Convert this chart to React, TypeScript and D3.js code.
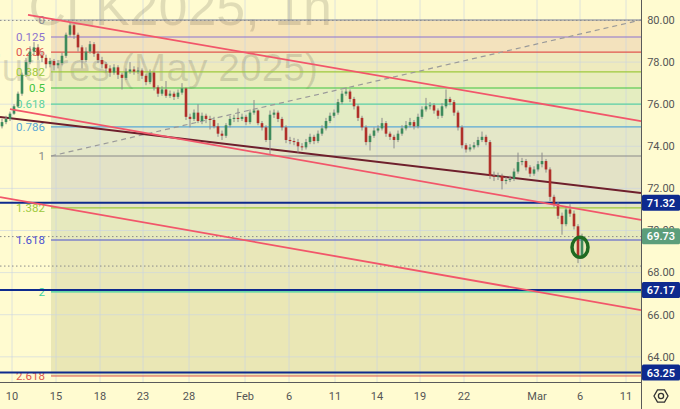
import React from "react";
import * as d3 from "d3";

const W = 680;
const H = 409;
const PLOT_R = 641;
const PLOT_B = 382;

// 1h candles (open = previous close)
const firstOpen = 74.95;
const closes = [
  75.15, 75.3, 75.55, 75.9, 76.5, 77.4, 78.0, 78.5, 78.7, 78.3,
  78.2, 77.9, 78.05, 77.85, 77.95, 78.3, 79.3, 79.75, 79.3, 78.7,
  78.1, 78.5, 78.85, 78.4, 78.1, 77.9, 77.7, 77.5, 77.75, 77.4,
  77.25, 77.55, 77.65, 77.55, 77.6, 77.35, 77.05, 77.5, 76.8, 76.5,
  76.7, 76.4, 76.5, 76.35, 76.55, 76.75, 75.4, 75.3, 75.6, 75.2,
  75.45, 75.3, 75.25, 74.95, 74.6, 74.5, 75.0, 75.3, 75.35, 75.3,
  75.4, 75.15, 75.6, 75.7, 75.1, 74.9, 74.3, 75.5, 75.6, 75.3,
  74.9, 74.3, 74.25, 74.2, 74.0, 73.95, 74.2, 74.45, 74.25, 74.6,
  74.85, 75.2, 75.45, 75.6, 76.1, 76.5, 76.6, 76.25, 75.9, 75.35,
  74.9, 74.2, 74.5, 74.75, 74.85, 75.1, 74.6, 74.45, 74.3, 74.6,
  74.85, 75.0, 75.15, 74.95, 75.4, 75.75, 75.9, 75.95, 75.7, 75.45,
  75.9, 76.25, 76.1, 75.6, 74.9, 74.05, 73.85, 73.95, 74.05, 74.3,
  74.45, 74.2, 72.6, 72.55, 72.6, 72.35, 72.4, 72.45, 72.8, 73.25,
  73.3, 73.0, 72.7, 72.9, 73.15, 73.3, 72.9, 71.6, 71.25, 70.7,
  70.3, 71.0, 70.8, 70.2, 68.75, 69.73,
];
const highs = [
  75.3, 75.45, 75.65, 76.0, 76.6, 77.5, 78.2, 78.75, 78.95, 78.85,
  78.5, 78.35, 78.2, 78.15, 78.1, 78.45, 79.4, 79.9, 79.8, 79.4,
  78.8, 78.7, 79.0, 78.95, 78.5, 78.25, 78.0, 77.85, 77.9, 77.85,
  77.5, 77.7, 78.0, 77.8, 77.75, 77.7, 77.45, 77.65, 77.55, 76.9,
  76.85, 77.1, 76.65, 76.6, 76.7, 77.0, 76.8, 75.55, 75.75, 76.0,
  75.6, 75.55, 75.45, 75.4, 75.1, 74.75, 75.1, 75.45, 75.5, 75.8,
  75.55, 75.5, 75.75, 76.2, 75.75, 75.2, 75.0, 75.7, 75.75, 75.7,
  75.4, 75.0, 74.45, 74.4, 74.35, 74.15, 74.35, 74.6, 74.55, 74.75,
  75.0, 75.35, 75.6, 75.75, 76.25, 76.65, 76.8, 76.7, 76.35, 76.0,
  75.45, 75.0, 74.6, 74.9, 75.0, 75.35, 75.2, 74.7, 74.55, 74.75,
  75.0, 75.2, 75.35, 75.25, 75.55, 75.9, 76.3, 76.1, 76.05, 75.8,
  76.05, 76.7, 76.35, 76.2, 75.7, 75.0, 74.15, 74.1, 74.2, 74.45,
  74.7, 74.55, 74.3, 72.8, 72.75, 72.7, 72.55, 72.6, 72.95, 73.7,
  73.45, 73.4, 73.1, 73.05, 73.3, 73.7, 73.4, 73.0, 71.7, 71.35,
  70.85, 71.15, 71.25, 70.95, 70.3, 69.85,
];
const lows = [
  74.85, 75.05, 75.2, 75.5, 75.85, 76.4, 77.3, 77.9, 78.35, 78.1,
  78.0, 77.7, 77.75, 77.6, 77.7, 77.85, 78.2, 79.2, 79.1, 78.5,
  77.7, 78.0, 78.4, 78.25, 77.95, 77.7, 77.5, 77.3, 77.4, 77.2,
  76.7, 77.15, 77.45, 77.4, 77.45, 77.2, 76.9, 76.95, 76.65, 76.35,
  76.4, 76.3, 76.3, 76.2, 76.25, 76.45, 75.25, 74.9, 75.2, 75.1,
  75.05, 75.1, 74.8, 74.85, 74.45, 74.3, 74.4, 74.9, 75.15, 75.15,
  75.2, 75.0, 75.05, 75.5, 75.0, 74.75, 74.2, 73.6, 75.35, 75.15,
  74.75, 74.15, 74.1, 74.05, 73.7, 73.8, 73.85, 74.1, 74.1, 74.15,
  74.5, 74.75, 75.1, 75.35, 75.5, 76.0, 76.4, 76.1, 75.75, 75.2,
  74.75, 74.05, 73.8, 74.4, 74.65, 74.75, 74.45, 74.3, 73.9, 74.2,
  74.5, 74.75, 74.9, 74.8, 74.85, 75.3, 75.65, 75.75, 75.55, 75.3,
  75.35, 75.8, 75.95, 75.45, 74.75, 73.9, 73.7, 73.75, 73.85, 73.95,
  74.2, 74.05, 72.45, 72.35, 72.4, 71.95, 72.2, 72.3, 72.35, 72.7,
  73.1, 72.85, 72.55, 72.6, 72.8, 73.0, 72.75, 71.4, 71.1, 70.55,
  69.8, 70.2, 70.65, 70.05, 68.45, 68.65,
];

const priceTicks = [64, 66, 68, 70, 72, 74, 76, 78, 80];
const dateLabels = ["10", "15", "18", "23", "28", "Feb", "6", "11", "14", "19", "22", "Mar", "6", "11"];
const dateIndex = [2.5, 13.5, 24.5, 35.25, 46.75, 60.75, 71.75, 83.25, 93.75, 104.5, 115.5, 133.75, 144.5, 156];

const fibLevels = [0, 0.125, 0.236, 0.382, 0.5, 0.618, 0.786, 1, 1.382, 1.618, 2, 2.618];
const fibLabels = ["0", "0.125", "0.236", "0.382", "0.5", "0.618", "0.786", "1", "1.382", "1.618", "2", "2.618"];
const fibHigh = 80.0;
const fibLow = 73.54;
const fibStartIndex = 12.25;
const fibEndIndex = 159.75;

const markedLevels = [71.32, 67.17, 63.25];
const tagValues = [71.32, 69.73, 67.17, 63.25];
const dottedLevels = [79.98, 69.71, 68.31];

// drawn lines: [startIndex, startPrice, endIndex, endPrice]
const redLines = [
  [6.5, 80.24, 159.75, 75.2],
  [2, 75.77, 159.75, 70.5],
  [-0.5, 71.59, 159.75, 66.22],
];
const maroonLine = [-0.5, 75.39, 159.75, 71.78];
const circleIndex = 144.5;
const circlePrice = 69.2;

// styles
const fibColors = ["#8a8c94", "#8b73cf", "#e0564e", "#9dc93c", "#3fc43f", "#5cd2a0", "#5aa8d6", "#8a8a8a", "#9dc93c", "#4b50d0", "#3dd3a0", "#e0564e"];
const bandColors = ["#f7e4b8", "#f3e2bd", "#eeeabe", "#e9ecbd", "#e4edc0", "#e3ecc4", "#e4e7c8", "#e3e2c6", "#e6e9be", "#e9e7b9", "#eae7b5"];
const tagColors = ["#0e2a8e", "#5c9e7b", "#0e2a8e", "#0e2a8e"];

const FONT = "Roboto, 'Liberation Sans', Arial, sans-serif";

export default function App() {
  const x = d3.scaleLinear().domain([0, 1]).range([2, 6]);
  const y = d3.scaleLinear().domain([64, 80]).range([356.8, 20]);
  const fibPrice = (l: number) => fibHigh - l * (fibHigh - fibLow);
  const fx0 = x(fibStartIndex);
  const fx1 = x(fibEndIndex);

  const candles = closes.map((c, i) => ({
    o: i === 0 ? firstOpen : closes[i - 1],
    c,
    h: highs[i],
    l: lows[i],
    i,
  }));

  const hexPts = d3.range(6).map((k) => {
    const a = (Math.PI / 3) * k;
    return [661 + 7 * Math.cos(a), 396 + 7 * Math.sin(a)];
  });

  return (
    <svg width={W} height={H} style={{ position: "absolute", left: 0, top: 0 }} fontFamily={FONT}>
      <defs>
        <clipPath id="plot">
          <rect x={0} y={0} width={PLOT_R} height={PLOT_B} />
        </clipPath>
      </defs>
      <rect x={0} y={0} width={W} height={H} fill="#fffbd0" />
      <g clipPath="url(#plot)">
        {fibLevels.slice(0, -1).map((l, k) => (
          <rect
            key={"b" + k}
            x={fx0}
            width={fx1 - fx0}
            y={y(fibPrice(l))}
            height={y(fibPrice(fibLevels[k + 1])) - y(fibPrice(l))}
            fill={bandColors[k]}
          />
        ))}
        {priceTicks.map((p) => (
          <line key={"hg" + p} x1={0} x2={PLOT_R} y1={y(p)} y2={y(p)} stroke="#c9d3e3" strokeOpacity={0.6} strokeWidth={1} />
        ))}
        {dateIndex.map((d, k) => (
          <line key={"vg" + k} x1={x(d)} x2={x(d)} y1={0} y2={PLOT_B} stroke="#c9d3e3" strokeOpacity={0.6} strokeWidth={1} />
        ))}
        <text x={332} y={25} textAnchor="end" fontSize={52} fill="#000" fillOpacity={0.12} fontFamily="'Liberation Sans', Arial, sans-serif">
          CLK2025, 1h
        </text>
        <text x={318} y={81} textAnchor="end" fontSize={39} fill="#000" fillOpacity={0.12} fontFamily="'Liberation Sans', Arial, sans-serif">
          Light Crude Oil Futures (May 2025)
        </text>
        {dottedLevels.map((p, k) => (
          <line key={"dl" + k} x1={0} x2={PLOT_R} y1={y(p)} y2={y(p)} stroke="#8a8a8a" strokeWidth={1} strokeDasharray="1.5,2.5" />
        ))}
        {fibLevels.map((l, k) => (
          <line key={"fl" + k} x1={fx0} x2={fx1} y1={y(fibPrice(l))} y2={y(fibPrice(l))} stroke={fibColors[k]} strokeWidth={1.2} />
        ))}
        {fibLevels.map((l, k) => (
          <text
            key={"ft" + k}
            x={fx0 - 6}
            y={y(fibPrice(l))}
            dy="0.35em"
            textAnchor="end"
            fontSize={11.5}
            fill={fibColors[k]}
          >
            {fibLabels[k]}
          </text>
        ))}
        <line x1={fx0} y1={y(fibLow)} x2={fx1} y2={y(fibHigh)} stroke="#9a9a9a" strokeWidth={1.2} strokeDasharray="5,4" />
        {markedLevels.map((p, k) => (
          <line key={"ml" + k} x1={0} x2={PLOT_R} y1={y(p)} y2={y(p)} stroke="#0e2a8e" strokeWidth={2} />
        ))}
        <line
          x1={x(maroonLine[0])}
          y1={y(maroonLine[1])}
          x2={x(maroonLine[2])}
          y2={y(maroonLine[3])}
          stroke="#6e1f2c"
          strokeWidth={2}
        />
        {candles.map((d) => {
          const up = d.c >= d.o;
          const cx = x(d.i);
          const top = y(Math.max(d.o, d.c));
          const bot = y(Math.min(d.o, d.c));
          return (
            <g key={"c" + d.i}>
              <line x1={cx} x2={cx} y1={y(d.h)} y2={y(d.l)} stroke="#8c8c8c" strokeWidth={1} />
              <rect
                x={cx - 1.3}
                width={2.6}
                y={top}
                height={Math.max(1, bot - top)}
                fill={up ? "#3d8a5c" : "#b0302a"}
              />
            </g>
          );
        })}
        {redLines.map((r, k) => (
          <line key={"rl" + k} x1={x(r[0])} y1={y(r[1])} x2={x(r[2])} y2={y(r[3])} stroke="#f2566a" strokeWidth={1.8} />
        ))}
        <ellipse cx={x(circleIndex)} cy={y(circlePrice)} rx={8} ry={10} fill="none" stroke="#1f6a22" strokeWidth={3.5} />
      </g>
      <line x1={PLOT_R + 0.5} x2={PLOT_R + 0.5} y1={0} y2={H} stroke="#5a5a5a" strokeWidth={1} />
      <line x1={0} x2={PLOT_R} y1={PLOT_B + 0.5} y2={PLOT_B + 0.5} stroke="#5a5a5a" strokeWidth={1} />
      {priceTicks.map((p) => (
        <text key={"pt" + p} x={661} y={y(p)} dy="0.35em" textAnchor="middle" fontSize={11} fill="#555">
          {p.toFixed(2)}
        </text>
      ))}
      {tagValues.map((p, k) => (
        <g key={"tag" + k}>
          <rect x={642} y={y(p) - 8} width={38} height={16} rx={1.5} fill={tagColors[k]} />
          <text x={661} y={y(p)} dy="0.36em" textAnchor="middle" fontSize={11} fontWeight={600} fill="#fff">
            {p.toFixed(2)}
          </text>
        </g>
      ))}
      {dateLabels.map((t, k) => (
        <text key={"dt" + k} x={x(dateIndex[k])} y={396} dy="0.35em" textAnchor="middle" fontSize={11} fill="#555">
          {t}
        </text>
      ))}
      <polygon points={hexPts.map((p) => p.join(",")).join(" ")} fill="none" stroke="#333" strokeWidth={1.3} />
      <circle cx={661} cy={396} r={2.6} fill="none" stroke="#333" strokeWidth={1.3} />
    </svg>
  );
}
